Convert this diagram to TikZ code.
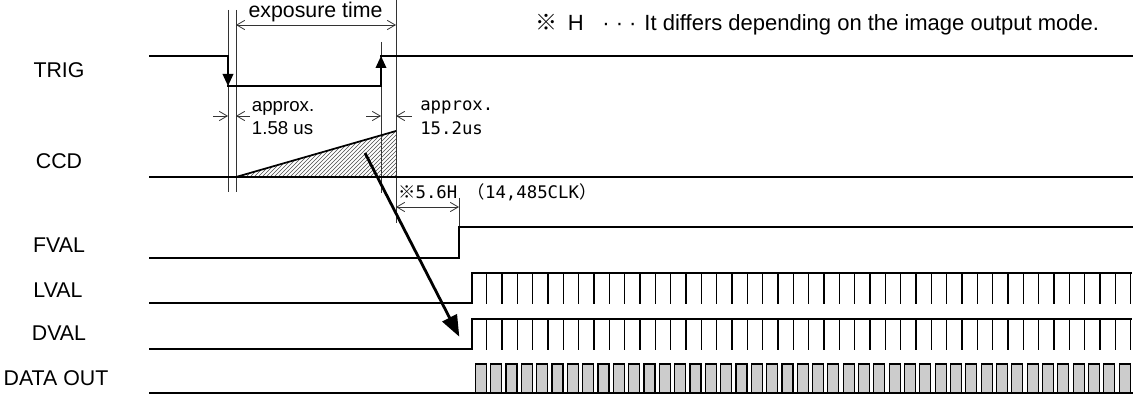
\documentclass[tikz,border=0pt]{standalone}
\usepackage{fontspec}
\setmainfont{Liberation Sans}
\newfontfamily\cjk{Noto Sans CJK JP}
\newfontfamily\mono{DejaVu Sans Mono}
\usetikzlibrary{arrows.meta,patterns}
\begin{document}
\begin{tikzpicture}[x=0.75pt,y=-0.75pt,
  sig/.style={line width=1.1pt,line cap=rect},
  thin/.style={line width=0.6pt,black!80},
  dimarr/.style={thin,{Straight Barb[length=6pt,width=7pt]}-{Straight Barb[length=6pt,width=7pt]}},
  dimone/.style={thin,-{Straight Barb[length=6pt,width=7pt]}},
  trigarr/.style={sig,line cap=butt,-{Triangle[length=9pt,width=8pt]}},
  lbl/.style={font=\fontsize{16}{18}\selectfont,inner sep=0pt},
  box/.style={line width=0.9pt,fill=gray!40},
]
\useasboundingbox (0,0) rectangle (1133,399);

% labels
\node[lbl] (lTRIG) at (59,70) {TRIG};
\node[lbl] (lCCD) at (59,161) {CCD};
\node[lbl] (lFVAL) at (59,245) {FVAL};
\node[lbl] (lLVAL) at (58,290) {LVAL};
\node[lbl] (lDVAL) at (59,333.5) {DVAL};
\node[lbl] (lDATA) at (56,378.5) {DATA OUT};

% note
\node[anchor=base west,inner sep=0pt,font=\fontsize{16.5}{18}\selectfont] (note) at (535,31)
  {{\cjk ※}\hspace{8pt}H\hspace{14pt}·\hspace{4.5pt}·\hspace{4.5pt}·\hspace{6pt}It differs depending on the image output mode.};

% thin extension lines
\draw[thin] (228,10) -- (228,192);
\draw[thin] (236,10) -- (236,192);
\draw[thin] (381,42) -- (381,193);
\draw[thin] (396,0) -- (396,223);
\draw[thin] (459,198) -- (459,227);

% exposure time
\draw[dimarr] (236,25) -- (396,25);
\node[anchor=base,inner sep=0pt,font=\fontsize{16}{18}\selectfont] (exp) at (315.5,18) {exposure time};

% approx dims
\draw[dimone] (213,116) -- (228,116);
\draw[dimone] (250,116) -- (236,116);
\draw[dimone] (366,116) -- (381,116);
\draw[dimone] (411.7,116) -- (396,116);
\node[anchor=base west,inner sep=0pt,font=\fontsize{14}{16}\selectfont] (ap1) at (251.7,111.7) {approx.};
\node[anchor=base west,inner sep=0pt,font=\fontsize{14}{16}\selectfont] (us1) at (251.7,135) {1.58 us};
\node[anchor=base west,inner sep=0pt,font=\mono\fontsize{13}{16}\selectfont] (ap2) at (420,110.7) {approx.};
\node[anchor=base west,inner sep=0pt,font=\mono\fontsize{13}{16}\selectfont] (us2) at (420,135) {15.2us};

% 5.6H dim
\draw[dimarr] (396,207) -- (459,207);
\node[anchor=base west,inner sep=0pt,font=\mono\fontsize{13}{16}\selectfont] (h56) at (398,199)
  {{\cjk ※}5.6H {\cjk （}14,485CLK{\cjk ）}};

% TRIG
\draw[sig] (150,56) -- (228,56);
\draw[trigarr] (228,56) -- (228,86);
\draw[sig] (228,86) -- (381,86);
\draw[trigarr] (381,86) -- (381,56);
\draw[sig] (381,56) -- (1132,56);

% CCD
\fill[pattern=north east lines,pattern color=black!70] (236,177) -- (396,131) -- (396,177) -- cycle;
\draw[line width=1.3pt] (236,177) -- (396,131);
\draw[sig] (150,177) -- (1132,177);

% FVAL
\draw[sig] (150,258) -- (459,258) -- (459,227) -- (1132,227);

% LVAL
\draw[sig] (150,303) -- (472,303) -- (472,273) -- (1131,273);
\foreach \k in {0,...,42} { \draw[sig] ({486.7+15.33*\k},273) -- ++(0,30); }

% DVAL
\draw[sig] (150,349) -- (472,349) -- (472,319) -- (1131,319);
\foreach \k in {0,...,42} { \draw[sig] ({486.7+15.33*\k},319) -- ++(0,30); }

% DATA OUT
\foreach \k in {0,...,42} { \draw[box] ({475.3+15.33*\k},364) rectangle ++(11,29); }
\draw[sig] (150,393) -- (1132,393);

% big arrow
\coordinate (bs) at (365,153);
\coordinate (be) at (459.3,336.7);
\draw[line width=2.1pt,-{Triangle[length=16pt,width=12pt]}] (bs) -- (be);
\end{tikzpicture}
\end{document}
